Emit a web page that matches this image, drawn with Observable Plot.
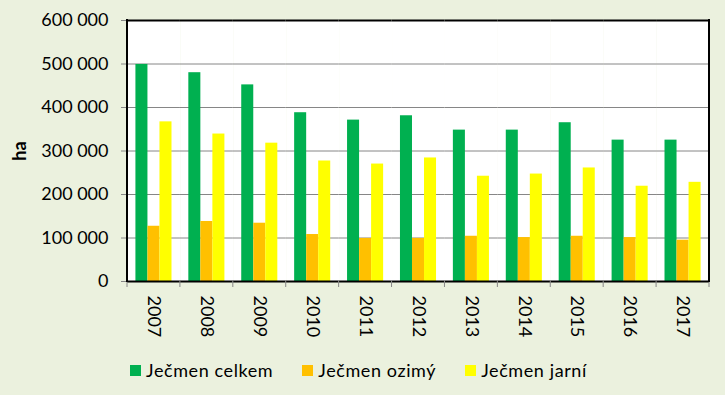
<!DOCTYPE html>
<html><head><meta charset="utf-8">
<script src="https://cdn.jsdelivr.net/npm/d3@7"></script>
<script src="https://cdn.jsdelivr.net/npm/@observablehq/plot@0.6"></script>
<style>
body{margin:0;background:#EBF1DE;font-family:Lato,"Open Sans",sans-serif;}
#wrap{width:725px;height:395px;overflow:hidden;background:#EBF1DE;}
#chart svg{display:block;}
.legend{display:flex;justify-content:flex-start;align-items:center;gap:29px;height:40px;font-size:18px;letter-spacing:0.6px;color:#000;padding-left:130px;}
.item{display:flex;align-items:center;gap:5px;white-space:nowrap;}
.sw{width:11px;height:11px;display:inline-block;}
</style>
</head><body>
<div id="wrap"><div id="chart"></div><div class="legend" id="legend"></div></div>
<script>
const years = ["2007","2008","2009","2010","2011","2012","2013","2014","2015","2016","2017"];
const series = ["Ječmen celkem","Ječmen ozimý","Ječmen jarní"];
const colors = ["#00B050","#FFC000","#FFFF00"];
const celkem = [499000,480000,452000,388000,371000,381000,348000,348000,365000,325000,325000];
const ozimy  = [127000,138000,134000,108000, 99000, 99000,104000,101000,104000,101000, 95000];
const jarni  = [367000,339000,318000,277000,270000,284000,242000,247000,261000,219000,228000];
const yTicks = [0,100000,200000,300000,400000,500000,600000];
const yLabel = "ha";

const values = [celkem, ozimy, jarni];
const data = [];
years.forEach((yr,i)=>series.forEach((s,j)=>data.push({year:yr, series:s, value:values[j][i]})));

const fmt = v => d3.format(",")(v).replace(/,/g," ");

const chart = Plot.plot({
  width:725, height:350,
  marginLeft:127, marginRight:16, marginTop:20, marginBottom:69,
  style:{background:"transparent", fontFamily:"Lato, sans-serif", fontSize:"18px", color:"#000"},
  fx:{domain:years, paddingInner:0, paddingOuter:0, round:false},
  x:{domain:series, paddingInner:0, paddingOuter:0.7, round:false, axis:null},
  y:{domain:[0,600000]},
  color:{domain:series, range:colors},
  marks:[
    Plot.frame({fill:"white"}),
    Plot.gridY(yTicks.filter(t=>t>0 && t<600000), {stroke:"#868686", strokeOpacity:1, strokeWidth:1}),
    Plot.barY(data, {fx:"year", x:"series", y:"value", fill:"series"}),
    Plot.ruleY([0,600000], {stroke:"#000", strokeWidth:2}),
    Plot.axisY(yTicks, {tickFormat:fmt, tickSize:6, tickPadding:13, stroke:"#868686", label:yLabel, labelAnchor:"center", labelArrow:"none", labelOffset:114, fontSize:18}),
    Plot.axisFx({anchor:"bottom", tickRotate:90, tickSize:0, tickPadding:14, label:null, fontSize:18})
  ]
});

// borders and category boundary ticks using the plot's scales
const fx = chart.scale("fx"), y = chart.scale("y");
const svg = d3.select(chart);
const y0 = y.apply(0), y1 = y.apply(600000);
const bounds = years.map(v=>fx.apply(v)).concat([fx.apply(years[years.length-1]) + fx.bandwidth]);
const g = svg.append("g");
g.selectAll("line.tk").data(bounds).join("line").attr("class","tk")
  .attr("x1",d=>d).attr("x2",d=>d).attr("y1",y0).attr("y2",y0+6)
  .attr("stroke","#868686").attr("stroke-width",1);
g.selectAll("line.bd").data([bounds[0], bounds[bounds.length-1]]).join("line").attr("class","bd")
  .attr("x1",d=>d).attr("x2",d=>d).attr("y1",y1-1).attr("y2",y0+1)
  .attr("stroke","#000").attr("stroke-width",2);
svg.selectAll('[aria-label="y-axis label"] text').attr("font-weight","bold");

document.getElementById("chart").appendChild(chart);

const lg = document.getElementById("legend");
series.forEach((s,i)=>{
  const it = document.createElement("div"); it.className="item";
  const sw = document.createElement("span"); sw.className="sw"; sw.style.background=colors[i];
  const tx = document.createElement("span"); tx.textContent=s;
  it.appendChild(sw); it.appendChild(tx); lg.appendChild(it);
});
</script>
</body></html>
